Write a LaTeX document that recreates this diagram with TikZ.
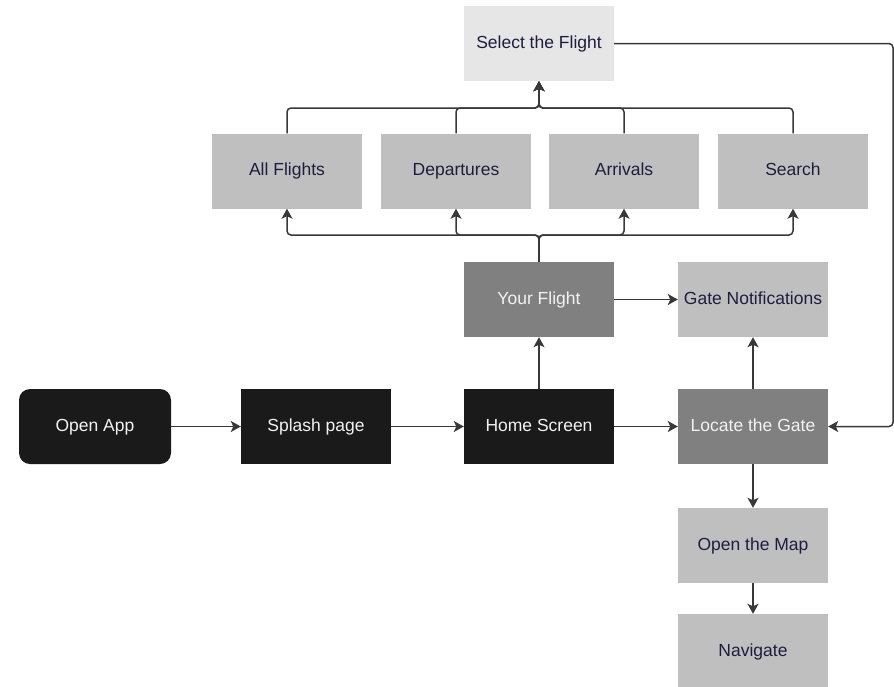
\documentclass[tikz,border=0pt]{standalone}
\usepackage{fontspec}
\setmainfont{Liberation Sans}
\usetikzlibrary{arrows.meta}
\definecolor{cdark}{HTML}{1A1A1A}
\definecolor{cmid}{HTML}{808080}
\definecolor{clight}{HTML}{BFBFBF}
\definecolor{cpale}{HTML}{E6E6E6}
\definecolor{cnavy}{HTML}{1F1D3F}
\definecolor{cline}{HTML}{383838}
\definecolor{cwhite}{HTML}{F2F2F2}
\tikzset{
  box/.style={rectangle, minimum width=150pt, minimum height=75pt, inner sep=0pt,
    text height=12.6pt, text depth=3.6pt,
    font=\fontsize{17.5}{20}\selectfont},
  darkbox/.style={box, fill=cdark, text=cwhite},
  midbox/.style={box, fill=cmid, text=cwhite},
  lightbox/.style={box, fill=clight, text=cnavy},
  palebox/.style={box, fill=cpale, text=cnavy},
  conn/.style={draw=cline, line width=1.5pt, rounded corners=4pt},
  arr/.style={conn, -{Stealth[length=10pt,width=11pt,inset=2.5pt]}}
}
\begin{document}
\begin{tikzpicture}[x=1pt,y=-1pt]
\useasboundingbox (0,0) rectangle (894,686);
% nodes
\node[palebox] (sel) at (539,43.5) {Select the Flight};
\node[lightbox] (all) at (287,171) {All Flights};
\node[lightbox] (dep) at (456,171) {Departures};
\node[lightbox] (arr) at (624,171) {Arrivals};
\node[lightbox] (sea) at (793,171) {Search};
\node[midbox] (yf) at (539,299.5) {Your Flight};
\node[lightbox] (gn) at (753,299.5) {Gate Notifications};
\node[darkbox, rounded corners=11pt, minimum width=152pt] (open) at (95,426.5) {Open App};
\node[darkbox] (spl) at (316,426.5) {Splash page};
\node[darkbox] (home) at (539,426.5) {Home Screen};
\node[midbox] (loc) at (753,426.5) {Locate the Gate};
\node[lightbox] (map) at (753,545.5) {Open the Map};
\node[lightbox] (nav) at (753,651.5) {Navigate};
\coordinate (topj) at (539,108);
\coordinate (botj) at (539,235);
\coordinate (rt) at (893,43.5);
% main row
\draw[arr] (open) -- (spl);
\draw[arr] (spl) -- (home);
\draw[arr] (home) -- (loc);
\draw[arr] (home) -- (yf);
\draw[arr] (yf) -- (gn);
\draw[arr] (loc) -- (gn);
\draw[arr] (loc) -- (map);
\draw[arr] (map) -- (nav);
% branch up from Your Flight
\draw[arr] (yf.north) -- (botj) -| (all.south);
\draw[arr] (yf.north) -- (botj) -| (dep.south);
\draw[arr] (yf.north) -- (botj) -| (arr.south);
\draw[arr] (yf.north) -- (botj) -| (sea.south);
% merge into Select the Flight
\draw[arr] (all.north) |- (topj) -- (sel.south);
\draw[arr] (dep.north) |- (topj) -- (sel.south);
\draw[arr] (arr.north) |- (topj) -- (sel.south);
\draw[arr] (sea.north) |- (topj) -- (sel.south);
% loop back to Locate the Gate
\draw[arr] (sel.east) -- (rt) |- (loc.east);
\end{tikzpicture}
\end{document}
